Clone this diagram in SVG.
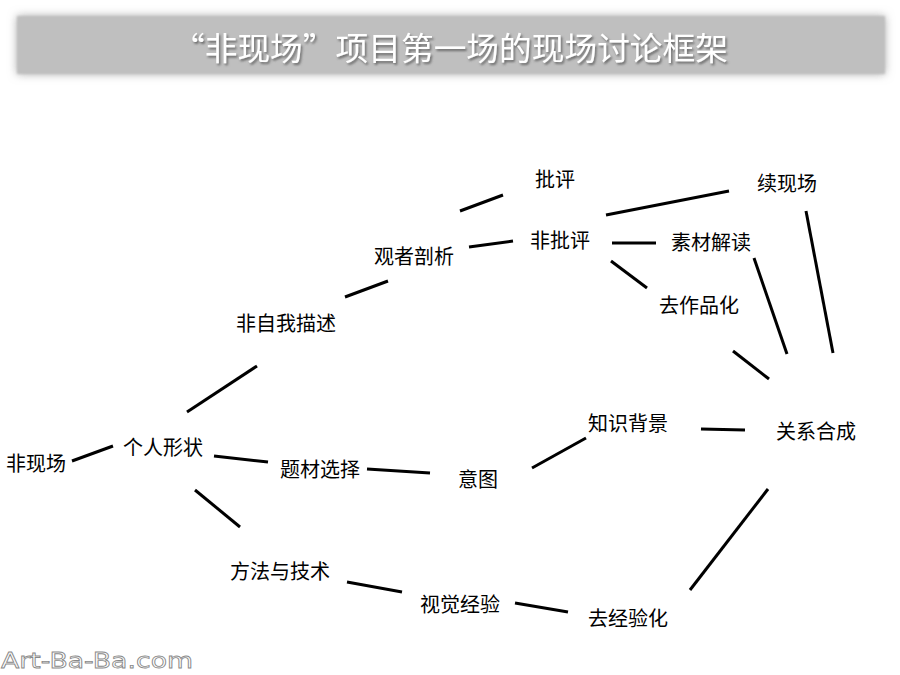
<svg xmlns="http://www.w3.org/2000/svg" width="900" height="675" viewBox="0 0 900 675">
<style>
.n{font-family:"Noto Sans CJK SC","Noto Sans",sans-serif;font-size:20px;fill:#000;text-anchor:middle;dominant-baseline:central}
.c line{stroke:#000;stroke-width:3;stroke-linecap:butt}
.title{font-family:"Noto Sans CJK SC","Noto Sans",sans-serif;font-size:32px;fill:#fff;text-anchor:middle;dominant-baseline:central}
.wm{font-family:"DejaVu Sans","Liberation Sans",sans-serif;font-size:22px;fill:#fff;stroke:#888;stroke-width:0.8}
</style>
<defs>
<filter id="soft" x="-5%" y="-40%" width="110%" height="180%">
<feGaussianBlur in="SourceAlpha" stdDeviation="5" result="b"/>
<feFlood flood-color="#999" flood-opacity="0.8"/>
<feComposite in2="b" operator="in" result="s"/>
<feGaussianBlur in="SourceGraphic" stdDeviation="1.2" result="g"/>
<feMerge><feMergeNode in="s"/><feMergeNode in="g"/></feMerge>
</filter>
<filter id="ts" x="-5%" y="-30%" width="110%" height="160%">
<feDropShadow dx="1.5" dy="2" stdDeviation="1" flood-color="#555" flood-opacity="0.8"/>
</filter>
</defs>
<rect width="900" height="675" fill="#fff"/>
<g id="title">
<rect x="17" y="16" width="868" height="58" fill="#bfbfbf" filter="url(#soft)"/>
<text class="title" x="450" y="46" textLength="556" lengthAdjust="spacingAndGlyphs" filter="url(#ts)">“非现场”项目第一场的现场讨论框架</text>
</g>
<g class="c" id="connectors">
<line x1="72" y1="461" x2="113" y2="446"/>
<line x1="187" y1="412" x2="257" y2="366"/>
<line x1="214" y1="456" x2="268" y2="462"/>
<line x1="195" y1="490" x2="240" y2="527"/>
<line x1="345" y1="297" x2="388" y2="281"/>
<line x1="469" y1="247" x2="513" y2="241"/>
<line x1="460" y1="211" x2="503" y2="195"/>
<line x1="606" y1="215" x2="729" y2="191"/>
<line x1="612" y1="243" x2="656" y2="243"/>
<line x1="611" y1="261" x2="647" y2="288"/>
<line x1="754" y1="258" x2="787" y2="354"/>
<line x1="806" y1="211" x2="833" y2="353"/>
<line x1="733" y1="351" x2="769" y2="379"/>
<line x1="367" y1="469" x2="430" y2="473"/>
<line x1="532" y1="468" x2="586" y2="438"/>
<line x1="701" y1="429" x2="745" y2="430"/>
<line x1="347" y1="582" x2="402" y2="592"/>
<line x1="515" y1="603" x2="568" y2="612"/>
<line x1="690" y1="590" x2="768" y2="489"/>
</g>
<g id="n-feixianchang"><text class="n" x="36" y="462">非现场</text></g>
<g id="n-gerenxingzhuang"><text class="n" x="163" y="446">个人形状</text></g>
<g id="n-ticaixuanze"><text class="n" x="320" y="468">题材选择</text></g>
<g id="n-yitu"><text class="n" x="478" y="478">意图</text></g>
<g id="n-zhishibeijing"><text class="n" x="628" y="422">知识背景</text></g>
<g id="n-guanxihecheng"><text class="n" x="816" y="430">关系合成</text></g>
<g id="n-fangfayujishu"><text class="n" x="280" y="570">方法与技术</text></g>
<g id="n-shijuejingyan"><text class="n" x="460" y="603">视觉经验</text></g>
<g id="n-qujingyanhua"><text class="n" x="628" y="617">去经验化</text></g>
<g id="n-feiziwomiaoshu"><text class="n" x="286" y="322">非自我描述</text></g>
<g id="n-guanzhepouxi"><text class="n" x="414" y="255">观者剖析</text></g>
<g id="n-piping"><text class="n" x="555" y="178">批评</text></g>
<g id="n-feipiping"><text class="n" x="560" y="239">非批评</text></g>
<g id="n-sucaijiedu"><text class="n" x="711" y="241">素材解读</text></g>
<g id="n-quzuopinhua"><text class="n" x="699" y="304">去作品化</text></g>
<g id="n-xuxianchang"><text class="n" x="787" y="182">续现场</text></g>
<text class="wm" x="1" y="668" textLength="192" lengthAdjust="spacingAndGlyphs">Art-Ba-Ba.com</text>
</svg>
